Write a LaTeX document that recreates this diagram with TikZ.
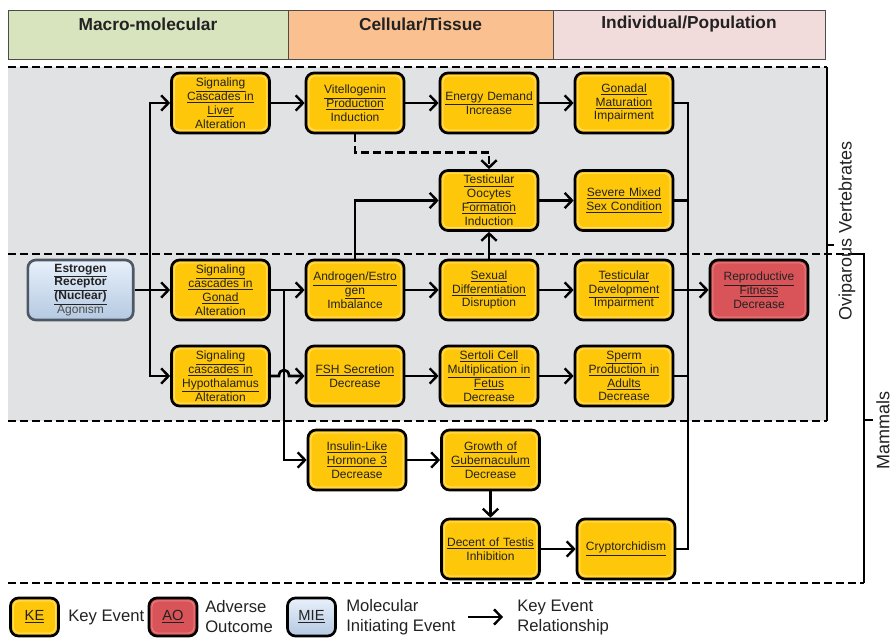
\documentclass[tikz,border=0pt]{standalone}
\usepackage{fontspec}
\setmainfont{Liberation Sans}
\usetikzlibrary{arrows.meta}
\definecolor{kegold}{RGB}{255,199,10}
\definecolor{kerimc}{RGB}{255,222,110}
\definecolor{aored}{RGB}{217,84,88}
\definecolor{aorimc}{RGB}{234,125,125}
\definecolor{mietop}{RGB}{232,240,250}
\definecolor{miebot}{RGB}{180,201,226}
\definecolor{mieline}{RGB}{78,88,100}
\definecolor{regiongray}{RGB}{225,226,228}
\definecolor{hgreen}{RGB}{215,228,189}
\definecolor{horange}{RGB}{250,192,144}
\definecolor{hpink}{RGB}{242,220,219}
\definecolor{textdark}{RGB}{34,34,34}
\begin{document}
\begin{tikzpicture}[x=0.75pt,y=-0.75pt,
    rim/.style={path picture={\draw[#1,line width=0.8pt,rounded corners=4pt]
        ([shift={(2.2pt,-2.2pt)}]path picture bounding box.north west) rectangle
        ([shift={(-2.2pt,2.2pt)}]path picture bounding box.south east);}},
    box/.style={rectangle,rounded corners=6pt,draw=black,line width=2pt,text=textdark,
        minimum width=73.5pt,minimum height=45pt,text width=70pt,inner sep=1pt,
        align=center,font=\fontsize{9}{10.4}\selectfont},
    ke/.style={box,fill=kegold,rim=kerimc},
    ao/.style={box,fill=aored,rim=aorimc},
    mie/.style={box,draw=mieline,top color=mietop,bottom color=miebot,minimum width=79pt,text width=75pt},
    legbox/.style={box,minimum width=36pt,minimum height=28.5pt,text width=30pt,font=\fontsize{11}{13}\selectfont},
    legtext/.style={anchor=west,align=left,inner sep=0pt,text=textdark,font=\fontsize{12.5}{15}\selectfont},
    hdrtext/.style={text=textdark,font=\fontsize{13}{15}\selectfont\bfseries},
    sidetext/.style={rotate=90,inner sep=0pt,text=textdark,font=\fontsize{13.5}{16}\selectfont},
    wire/.style={line width=2pt},
    kerel/.style={wire,-{Straight Barb[length=5.5pt,width=11.5pt,line width=1.8pt]}},
    regiondash/.style={line width=2pt,dash pattern=on 6pt off 3pt}]
    \useasboundingbox (0,0) rectangle (893,638);
    %% header
    \draw[draw=black!70,fill=hgreen] (8,10) rectangle (288,59);
    \draw[draw=black!70,fill=horange] (288,10) rectangle (553,59);
    \draw[draw=black!70,fill=hpink] (553,10) rectangle (825,59);
    \node[hdrtext] (hmacro) at (148,24) {Macro-molecular};
    \node[hdrtext] (hcell) at (420.5,24) {Cellular/Tissue};
    \node[hdrtext] (hindiv) at (689,24) {Individual/Population};
    %% regions
    \fill[regiongray] (8,67) rectangle (827,421);
    \draw[regiondash] (8,67) -- (827,67);
    \draw[regiondash] (8,254) -- (850,254);
    \draw[regiondash] (8,421) -- (827,421);
    \draw[regiondash] (8,583) -- (864,583);
    \draw[wire] (827,67) -- (827,421);
    \draw[wire] (827,245) -- (834,245);
    \draw[wire] (850,254) -- (864,254) -- (864,583);
    \draw[wire] (864,420) -- (873,420);
    \node[sidetext] (ovip) at (847,231) {Oviparous Vertebrates};
    \node[sidetext] (mamm) at (883,430) {Mammals};
    %% key events
    \node[mie] (mie) at (80.5,290) {\textbf{\underline{Estrogen}}\\\textbf{\underline{Receptor}}\\\textbf{\underline{(Nuclear)}}\\\textcolor{black!70}{Agonism}};
    \node[ke] (liver) at (220.5,103) {\underline{Signaling}\\\underline{Cascades in}\\\underline{Liver}\\Alteration};
    \node[ke] (vtg) at (355,103) {\underline{Vitellogenin}\\\underline{Production}\\Induction};
    \node[ke] (energy) at (489,103) {\underline{Energy Demand}\\Increase};
    \node[ke] (gonadal) at (624,103) {\underline{Gonadal}\\\underline{Maturation}\\Impairment};
    \node[ke] (oocyte) at (489,200.5) {\underline{Testicular}\\\underline{Oocytes}\\\underline{Formation}\\Induction};
    \node[ke] (mixsex) at (624,200.5) {\underline{Severe Mixed}\\\underline{Sex Condition}};
    \node[ke] (gonad) at (220.5,290) {\underline{Signaling}\\\underline{cascades in}\\\underline{Gonad}\\Alteration};
    \node[ke] (ratio) at (355,290) {\underline{Androgen/Estro}\\\underline{gen}\\Imbalance};
    \node[ke] (sexdiff) at (489,290) {\underline{Sexual}\\\underline{Differentiation}\\Disruption};
    \node[ke] (testdev) at (624,290) {\underline{Testicular}\\\underline{Development}\\Impairment};
    \node[ao] (fitness) at (759,290) {\underline{Reproductive}\\\underline{Fitness}\\Decrease};
    \node[ke] (hypo) at (220.5,376) {\underline{Signaling}\\\underline{cascades in}\\\underline{Hypothalamus}\\Alteration};
    \node[ke] (fsh) at (355,376) {\underline{FSH Secretion}\\Decrease};
    \node[ke] (sertoli) at (489,376) {\underline{Sertoli Cell}\\\underline{Multiplication in}\\\underline{Fetus}\\Decrease};
    \node[ke] (sperm) at (624,376) {\underline{Sperm}\\\underline{Production in}\\\underline{Adults}\\Decrease};
    \node[ke] (insl) at (357,460) {\underline{Insulin-Like}\\\underline{Hormone 3}\\Decrease};
    \node[ke] (guber) at (490.5,460) {\underline{Growth of}\\\underline{Gubernaculum}\\Decrease};
    \node[ke] (descent) at (490.5,549) {\underline{Decent of Testis}\\Inhibition};
    \node[ke] (crypto) at (626,549) {\underline{Cryptorchidism}};
    %% relationships
    \coordinate (split) at (150,290);
    \coordinate (gsplit) at (284,290);
    \coordinate (hopin) at (279,376);
    \coordinate (hopout) at (289,376);
    \coordinate (bustop) at (688,103);
    \coordinate (busbot) at (688,549);
    \draw[kerel] (mie) -- (gonad);
    \draw[kerel] (split) |- (liver);
    \draw[kerel] (split) |- (hypo);
    \draw[kerel] (liver) -- (vtg);
    \draw[kerel] (vtg) -- (energy);
    \draw[kerel] (energy) -- (gonadal);
    \draw[kerel,dash pattern=on 6pt off 3pt] (vtg.south) -- ++(0,18) -| (oocyte.north);
    \draw[kerel] (ratio.north) |- (oocyte);
    \draw[kerel] (sexdiff) -- (oocyte);
    \draw[kerel] (oocyte) -- (mixsex);
    \draw[kerel] (gonad) -- (ratio);
    \draw[kerel] (gsplit) |- (insl);
    \draw[kerel] (hypo) -- (hopin) .. controls (279,368) and (289,368) .. (hopout) -- (fsh);
    \draw[kerel] (ratio) -- (sexdiff);
    \draw[kerel] (sexdiff) -- (testdev);
    \draw[kerel] (fsh) -- (sertoli);
    \draw[kerel] (sertoli) -- (sperm);
    \draw[kerel] (insl) -- (guber);
    \draw[kerel] (guber) -- (descent);
    \draw[kerel] (descent) -- (crypto);
    \draw[wire] (gonadal) -- (bustop) -- (busbot) -- (crypto);
    \draw[wire] (mixsex) -- (mixsex -| bustop);
    \draw[wire] (sperm) -- (sperm -| bustop);
    \draw[kerel] (testdev) -- (fitness);
    %% legend
    \node[ke,legbox] (legke) at (34.5,617) {\underline{KE}};
    \node[legtext] (legketext) at (68,617) {Key Event};
    \node[ao,legbox] (legao) at (173,617) {\underline{AO}};
    \node[legtext] (legaotext) at (205,617) {Adverse\\Outcome};
    \node[mie,legbox] (legmie) at (311.5,617) {\underline{MIE}};
    \node[legtext] (legmietext) at (346,617) {Molecular\\Initiating Event};
    \coordinate (legfrom) at (468,617);
    \coordinate (legto) at (503,617);
    \draw[kerel] (legfrom) -- (legto);
    \node[legtext] (legreltext) at (517,617) {Key Event\\Relationship};
\end{tikzpicture}
\end{document}
